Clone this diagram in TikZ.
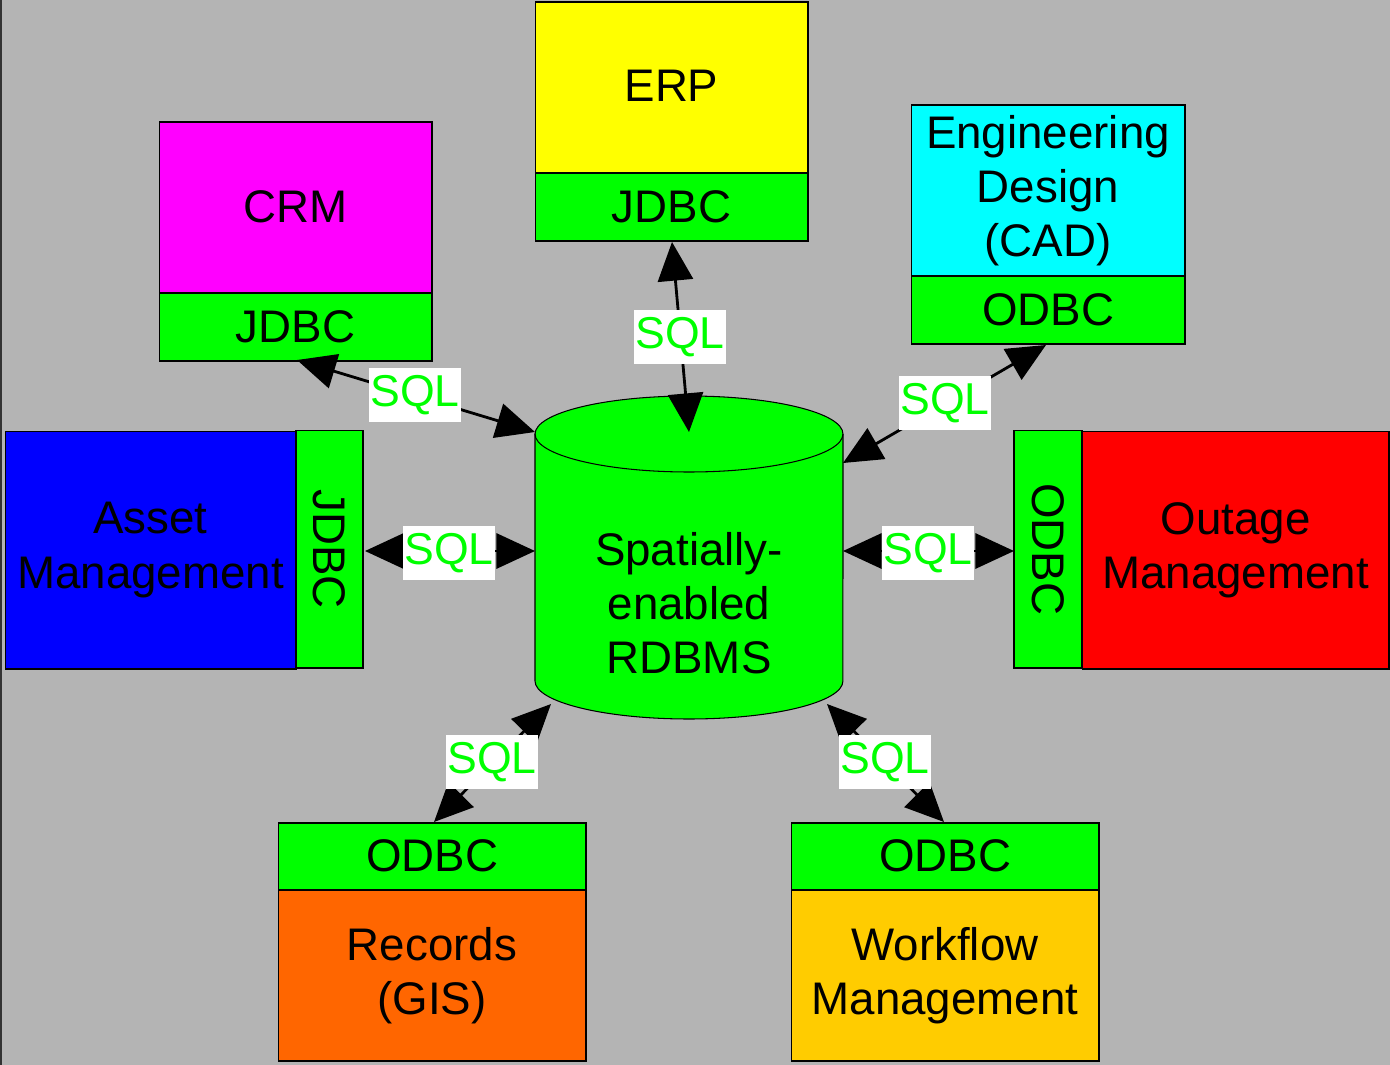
\documentclass[tikz,border=0pt]{standalone}
\usepackage{fontspec}
\setmainfont{Liberation Sans}
\usetikzlibrary{arrows.meta}
\definecolor{bg}{HTML}{B4B4B4}
\definecolor{cgreen}{HTML}{00FF00}
\definecolor{cmag}{HTML}{FF00FF}
\definecolor{cyel}{HTML}{FFFF00}
\definecolor{ccyan}{HTML}{00FFFF}
\definecolor{cblue}{HTML}{0000FF}
\definecolor{cred}{HTML}{FF0000}
\definecolor{corange}{HTML}{FF6600}
\definecolor{cgold}{HTML}{FFCC00}
\tikzset{
  box/.style={draw=black, line width=0.6pt, inner sep=0pt, align=center,
    font=\fontsize{26}{30.8}\selectfont, text=black},
  sql/.style={fill=white, text=cgreen, inner xsep=1pt, inner ysep=0pt,
    minimum height=31.2pt, minimum width=52pt, font=\fontsize{25.4}{30}\selectfont},
  conn/.style={line width=1.6pt, {Triangle[length=22pt,width=20pt]}-{Triangle[length=22pt,width=20pt]}},
}
\begin{document}
\begin{tikzpicture}[x=0.02cm, y=-0.02cm]
\fill[bg] (0,0) rectangle (1390,1065);
\useasboundingbox (0,0) rectangle (1390,1065);
\fill[black!80] (0,0) rectangle (2,1065);

% ERP
\node[box, fill=cyel, minimum width=5.46cm, minimum height=3.42cm] (erp) at (671.5,87.5) {\raisebox{1.5pt}{ERP}};
\node[box, fill=cgreen, minimum width=5.46cm, minimum height=1.36cm] (erpj) at (671.5,207) {\raisebox{1pt}{JDBC}};
% CRM
\node[box, fill=cmag, minimum width=5.46cm, minimum height=3.42cm] (crm) at (295.5,207.5) {\raisebox{1.5pt}{CRM}};
\node[box, fill=cgreen, minimum width=5.46cm, minimum height=1.36cm] (crmj) at (295.5,327) {\raisebox{1pt}{JDBC}};
% Engineering
\node[box, fill=ccyan, minimum width=5.48cm, minimum height=3.42cm] (eng) at (1048,190.5) {Engineering\\Design\\(CAD)};
\node[box, fill=cgreen, minimum width=5.48cm, minimum height=1.36cm] (engo) at (1048,310) {\raisebox{1pt}{ODBC}};
% Asset
\node[box, fill=cblue, minimum width=5.82cm, minimum height=4.76cm] (asset) at (150.5,550) {Asset\\Management};
\node[box, fill=cgreen, rotate=-90, minimum width=4.76cm, minimum height=1.34cm] (assetj) at (329.5,549) {JDBC};
% Outage
\node[box, fill=cred, minimum width=6.14cm, minimum height=4.76cm] (outage) at (1235.5,550) {Outage\\Management};
\node[box, fill=cgreen, rotate=-90, minimum width=4.76cm, minimum height=1.36cm] (outageo) at (1048,549) {ODBC};
% Records
\node[box, fill=cgreen, minimum width=6.16cm, minimum height=1.34cm] (reco) at (432,856.5) {\raisebox{1pt}{ODBC}};
\node[box, fill=corange, minimum width=6.16cm, minimum height=3.42cm] (rec) at (432,975.5) {Records\\(GIS)};
% Workflow
\node[box, fill=cgreen, minimum width=6.16cm, minimum height=1.34cm] (wfo) at (945,856.5) {\raisebox{1pt}{ODBC}};
\node[box, fill=cgold, minimum width=6.16cm, minimum height=3.42cm] (wf) at (945,975.5) {Workflow\\Management};

% Cylinder
\draw[fill=cgreen, line width=0.6pt] (535,434) -- (535,681)
  arc[start angle=180, end angle=360, x radius=3.08cm, y radius=0.76cm]
  -- (843,434)
  arc[start angle=0, end angle=180, x radius=3.08cm, y radius=0.76cm] -- cycle;
\draw[line width=0.6pt] (535,434) arc[start angle=180, end angle=360, x radius=3.08cm, y radius=0.76cm];
\node[font=\fontsize{26}{30.8}\selectfont, align=center, text=black] (db) at (689,603) {Spatially-\\enabled\\RDBMS};

% endpoints
\coordinate (dERP) at (689,432);
\coordinate (dCRM) at (535,432);
\coordinate (dENG) at (843,463);
\coordinate (dAS) at (535,551);
\coordinate (dOU) at (843,551);
\coordinate (dREC) at (551,704);
\coordinate (dWF) at (827,704);
\coordinate (eERP) at (672,242);
\coordinate (eCRM) at (297,360);
\coordinate (eENG) at (1046,345);
\coordinate (eAS) at (365,551);
\coordinate (eOU) at (1014,551);
\coordinate (eREC) at (434,822);
\coordinate (eWF) at (944,822);

\draw[conn] (eERP) -- (dERP);
\draw[conn] (eCRM) -- (dCRM);
\draw[conn] (eENG) -- (dENG);
\draw[conn] (eAS) -- (dAS);
\draw[conn] (dOU) -- (eOU);
\draw[conn] (dREC) -- (eREC);
\draw[conn] (dWF) -- (eWF);

\node[sql] (s1) at (680,337) {SQL};
\node[sql] (s2) at (415,395) {SQL};
\node[sql] (s3) at (945,403) {SQL};
\node[sql] (s4) at (449,553) {SQL};
\node[sql] (s5) at (928,553) {SQL};
\node[sql] (s6) at (492,762) {SQL};
\node[sql] (s7) at (885,762) {SQL};
\end{tikzpicture}
\end{document}
